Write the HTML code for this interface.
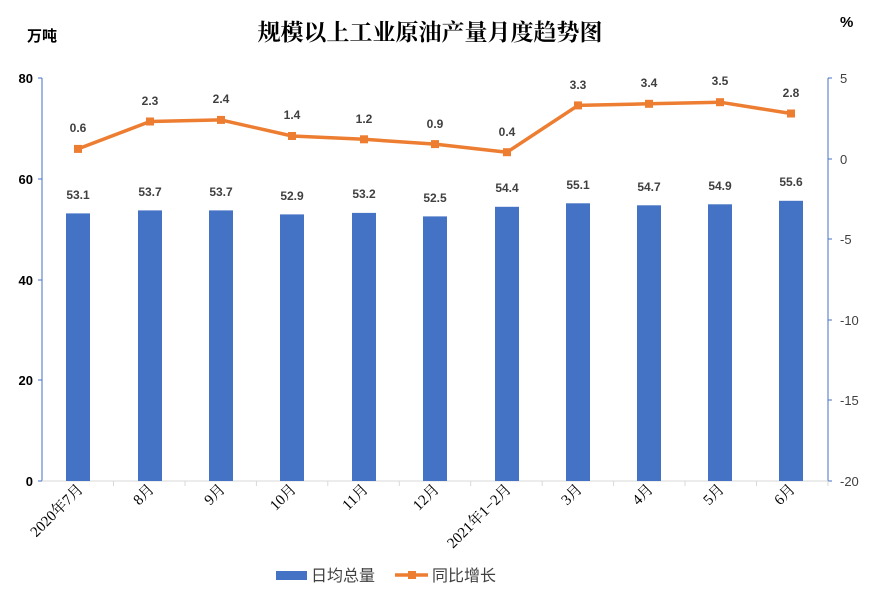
<!DOCTYPE html>
<html><head><meta charset="utf-8"><style>
html,body{margin:0;padding:0;background:#fff}
svg{display:block}
.yl{font-family:"Liberation Sans",sans-serif;font-size:13px;font-weight:bold;fill:#000}
.yr{font-family:"Liberation Sans",sans-serif;font-size:13px;fill:#404040}
.bl{font-family:"Liberation Sans",sans-serif;font-size:12px;font-weight:bold;fill:#404040}
.xl{font-family:"Liberation Serif","Noto Serif CJK SC",serif;font-size:15px;fill:#000}
.lg{font-family:"Liberation Sans","Noto Sans CJK SC",sans-serif;font-size:16px;fill:#404040}
</style></head><body>
<svg width="871" height="590" viewBox="0 0 871 590">
<text x="430" y="40" text-anchor="middle" font-family="'Liberation Serif','Noto Serif CJK SC',serif" font-size="23" font-weight="bold" fill="#000">规模以上工业原油产量月度趋势图</text>
<text x="27" y="41" font-family="'Liberation Sans','Noto Sans CJK SC',sans-serif" font-size="15" font-weight="bold">万吨</text>
<text x="840" y="27" font-family="'Liberation Sans',sans-serif" font-size="15" font-weight="bold">%</text>
<line x1="42" y1="78" x2="42" y2="481" stroke="#4472c4" stroke-width="1"/>
<line x1="828" y1="78" x2="828" y2="481" stroke="#4472c4" stroke-width="1"/>
<line x1="42" y1="481" x2="828" y2="481" stroke="#d9d9d9" stroke-width="1"/>
<g stroke="#4472c4">
<line x1="38" y1="78" x2="42" y2="78"/><line x1="38" y1="179" x2="42" y2="179"/><line x1="38" y1="280" x2="42" y2="280"/><line x1="38" y1="380" x2="42" y2="380"/><line x1="38" y1="481" x2="42" y2="481"/>
<line x1="828" y1="78" x2="832" y2="78"/><line x1="828" y1="159" x2="832" y2="159"/><line x1="828" y1="239" x2="832" y2="239"/><line x1="828" y1="320" x2="832" y2="320"/><line x1="828" y1="400" x2="832" y2="400"/><line x1="828" y1="481" x2="832" y2="481"/>
</g>
<g stroke="#d9d9d9">
<line x1="113.5" y1="481" x2="113.5" y2="486"/><line x1="185" y1="481" x2="185" y2="486"/><line x1="256.4" y1="481" x2="256.4" y2="486"/><line x1="327.8" y1="481" x2="327.8" y2="486"/><line x1="399.3" y1="481" x2="399.3" y2="486"/><line x1="470.7" y1="481" x2="470.7" y2="486"/><line x1="542.2" y1="481" x2="542.2" y2="486"/><line x1="613.6" y1="481" x2="613.6" y2="486"/><line x1="685" y1="481" x2="685" y2="486"/><line x1="756.5" y1="481" x2="756.5" y2="486"/><line x1="828" y1="481" x2="828" y2="486"/>
</g>
<g class="yl" text-anchor="end">
<text x="33" y="83">80</text><text x="33" y="184">60</text><text x="33" y="285">40</text><text x="33" y="385">20</text><text x="33" y="486">0</text>
</g>
<g class="yr">
<text x="840" y="83">5</text><text x="840" y="164">0</text><text x="840" y="244">-5</text><text x="840" y="325">-10</text><text x="840" y="405">-15</text><text x="840" y="486">-20</text>
</g>
<g fill="#4472c4">
<rect x="66" y="213.4" width="24" height="267.6"/>
<rect x="138" y="210.4" width="24" height="270.6"/>
<rect x="209" y="210.4" width="24" height="270.6"/>
<rect x="280" y="214.4" width="24" height="266.6"/>
<rect x="352" y="212.9" width="24" height="268.1"/>
<rect x="423" y="216.4" width="24" height="264.6"/>
<rect x="495" y="206.8" width="24" height="274.2"/>
<rect x="566" y="203.3" width="24" height="277.7"/>
<rect x="637" y="205.3" width="24" height="275.7"/>
<rect x="708" y="204.3" width="24" height="276.7"/>
<rect x="779" y="200.8" width="24" height="280.2"/>
</g>
<g class="bl" text-anchor="middle">
<text x="78" y="199">53.1</text><text x="150" y="196">53.7</text><text x="221" y="196">53.7</text><text x="292" y="200">52.9</text><text x="364" y="198">53.2</text><text x="435" y="202">52.5</text><text x="507" y="192">54.4</text><text x="578" y="189">55.1</text><text x="649" y="191">54.7</text><text x="720" y="190">54.9</text><text x="791" y="186">55.6</text>
</g>
<polyline fill="none" stroke="#ed7d31" stroke-width="3.5" stroke-linejoin="round" points="78,148.9 150,121.5 221,119.9 292,136 364,139.3 435,144.1 507,152.2 578,105.4 649,103.8 720,102.2 791,113.5"/>
<g fill="#ed7d31">
<rect x="74" y="144.9" width="8" height="8"/><rect x="146" y="117.5" width="8" height="8"/><rect x="217" y="115.9" width="8" height="8"/><rect x="288" y="132" width="8" height="8"/><rect x="360" y="135.3" width="8" height="8"/><rect x="431" y="140.1" width="8" height="8"/><rect x="503" y="148.2" width="8" height="8"/><rect x="574" y="101.4" width="8" height="8"/><rect x="645" y="99.8" width="8" height="8"/><rect x="716" y="98.2" width="8" height="8"/><rect x="787" y="109.5" width="8" height="8"/>
</g>
<g class="bl" text-anchor="middle">
<text x="78" y="132">0.6</text><text x="150" y="105">2.3</text><text x="221" y="103">2.4</text><text x="292" y="119">1.4</text><text x="364" y="123">1.2</text><text x="435" y="128">0.9</text><text x="507" y="136">0.4</text><text x="578" y="89">3.3</text><text x="649" y="87">3.4</text><text x="720" y="85">3.5</text><text x="791" y="97">2.8</text>
</g>
<g class="xl" text-anchor="end">
<text transform="translate(84,490) rotate(-45)">2020年7月</text>
<text transform="translate(155,490) rotate(-45)">8月</text>
<text transform="translate(226,490) rotate(-45)">9月</text>
<text transform="translate(297,490) rotate(-45)">10月</text>
<text transform="translate(369,490) rotate(-45)">11月</text>
<text transform="translate(440,490) rotate(-45)">12月</text>
<text transform="translate(512,490) rotate(-45)">2021年1−2月</text>
<text transform="translate(583,490) rotate(-45)">3月</text>
<text transform="translate(654,490) rotate(-45)">4月</text>
<text transform="translate(725,490) rotate(-45)">5月</text>
<text transform="translate(796,490) rotate(-45)">6月</text>
</g>
<rect x="276" y="571" width="31" height="9" fill="#4472c4"/>
<text class="lg" x="311" y="581">日均总量</text>
<line x1="395" y1="575" x2="428" y2="575" stroke="#ed7d31" stroke-width="3.5"/>
<rect x="408" y="571" width="8" height="8" fill="#ed7d31"/>
<text class="lg" x="432" y="581">同比增长</text>
</svg>
</body></html>
